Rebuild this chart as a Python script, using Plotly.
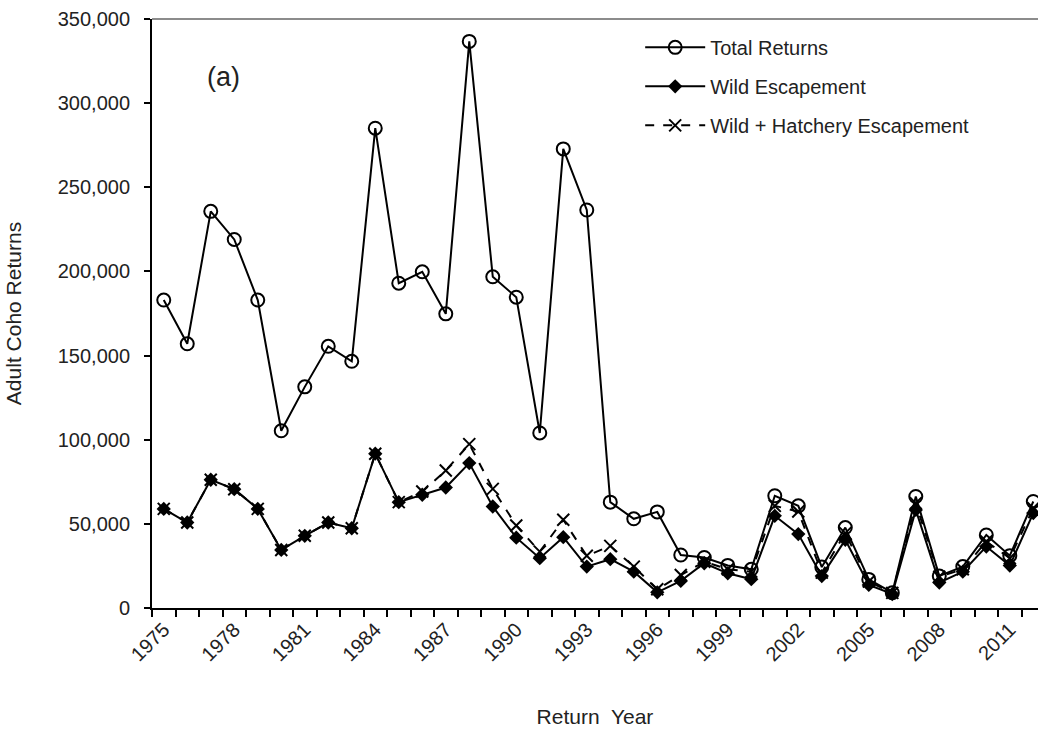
import plotly.graph_objects as go

years = list(range(1975, 2013))

total_returns = [
    183000, 157000, 235700, 219000, 183000, 105300, 131400, 155500, 146600, 285100,
    193000, 199800, 174800, 336700, 196800, 184700, 104000, 272800, 236500, 62900,
    53000, 57100, 31500, 30000, 25300, 23000, 66700, 60700, 24300, 47800,
    17000, 9100, 66300, 19000, 24600, 43400, 31100, 63300,
]
wild_escapement = [
    58900, 50800, 76200, 70600, 58900, 34500, 42900, 50800, 47400, 91700,
    62900, 67300, 71600, 86100, 60300, 41800, 29600, 42100, 24600, 29000,
    21600, 9300, 16100, 26600, 20600, 17100, 54800, 43900, 19000, 40500,
    13700, 8300, 58300, 15100, 21600, 36500, 25200, 56400,
]
wild_hatchery_escapement = [
    58900, 50800, 76200, 70600, 58900, 34500, 42900, 50800, 47400, 91700,
    62900, 69200, 81700, 97400, 70800, 49000, 33500, 52400, 31000, 36900,
    24600, 11100, 19600, 27500, 23000, 21600, 60700, 57300, 21000, 44500,
    15700, 9000, 62300, 18600, 23000, 39500, 29600, 59300,
]

x_tick_years = list(range(1975, 2012, 3))

FONT = "Liberation Sans, Arial, sans-serif"
TEXT = "#222222"

fig = go.Figure()

fig.add_trace(go.Scatter(
    x=years, y=total_returns, name="Total Returns", legendgroup="a",
    mode="lines+markers",
    line=dict(color="black", width=2),
    marker=dict(symbol="circle-open", size=13, color="black",
                line=dict(width=2, color="black")),
))
fig.add_trace(go.Scatter(
    x=years, y=wild_escapement, name="Wild Escapement", legendgroup="b",
    mode="lines+markers",
    line=dict(color="black", width=2),
    marker=dict(symbol="diamond", size=11, color="black"),
))
fig.add_trace(go.Scatter(
    x=years, y=wild_hatchery_escapement, name="Wild + Hatchery Escapement",
    legendgroup="c",
    mode="lines+markers",
    line=dict(color="black", width=2, dash="dash"),
    marker=dict(symbol="x-thin", size=12, color="black",
                line=dict(width=2, color="black")),
))

fig.update_layout(
    width=1038, height=732,
    margin=dict(l=152, r=0, t=19, b=124),
    plot_bgcolor="white", paper_bgcolor="white",
    font=dict(family=FONT, color=TEXT, size=20),
    showlegend=True,
    legend=dict(
        x=0.551, y=0.985, xanchor="left", yanchor="top",
        bgcolor="rgba(0,0,0,0)", font=dict(size=20),
        itemwidth=60, tracegroupgap=10,
    ),
)

fig.update_xaxes(
    range=[1974.5, 2012.2],
    tickvals=x_tick_years,
    ticktext=[str(y) for y in x_tick_years],
    tickangle=-45,
    ticks="",
    minor=dict(tick0=1974.5, dtick=1, ticks="outside", ticklen=7,
               tickcolor="black", tickwidth=1.5),
    showline=True, linecolor="black", linewidth=2,
    showgrid=False, zeroline=False,
    tickfont=dict(size=20),
    automargin=False,
    title=dict(text="Return  Year", font=dict(size=21), standoff=45),
)
fig.update_yaxes(
    range=[0, 350000], dtick=50000, tickformat=",",
    ticks="outside", ticklen=6, tickcolor="black", tickwidth=1.5,
    showline=True, linecolor="black", linewidth=2,
    showgrid=False, zeroline=False,
    ticklabelstandoff=10,
    tickfont=dict(size=20),
    automargin=False,
    title=dict(text="Adult Coho Returns", font=dict(size=21), standoff=30),
)

# grey border along the top of the plot area
fig.add_shape(type="line", xref="paper", yref="paper",
              x0=0, x1=1, y0=1, y1=1,
              line=dict(color="#8c8c8c", width=2))

fig.add_annotation(text="(a)", x=1977.55, y=315500, showarrow=False,
                   font=dict(size=27, color=TEXT))

fig.write_html("out.html", config={"displayModeBar": False},
               post_script="document.body.style.margin='0';")
